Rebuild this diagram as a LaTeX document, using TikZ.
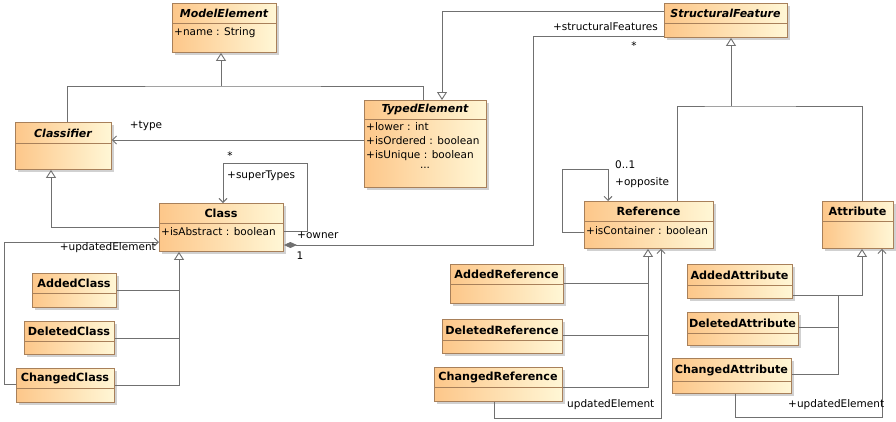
\documentclass[tikz,border=0pt]{standalone}
\usepackage{fontspec}
\setmainfont{DejaVu Sans}
\usetikzlibrary{arrows.meta,shadows,calc}

\definecolor{boxleft}{RGB}{253,199,138}
\definecolor{boxright}{RGB}{255,247,214}
\definecolor{boxline}{RGB}{168,128,90}
\definecolor{wire}{RGB}{112,112,112}

\tikzset{
  classbox/.style={draw=boxline, line width=0.9pt, left color=boxleft, right color=boxright,
    inner sep=0pt, anchor=north west,
    drop shadow={shadow xshift=2.5pt, shadow yshift=-2.5pt, fill=black!40, opacity=0.45}},
  divider/.style={draw=boxline, line width=0.9pt},
  txt/.style={font=\fontsize{10.5}{14}\selectfont, inner sep=0pt},
  concrete/.style={txt, font=\fontsize{11.2}{14}\selectfont\bfseries},
  abstract/.style={txt, font=\fontsize{11}{14}\selectfont\bfseries\itshape},
  attrs/.style={txt, anchor=west, align=left},
  conn/.style={draw=wire, line width=0.9pt},
  gen/.style={conn, -{Triangle[length=8pt, width=10pt, fill=white]}},
  nav/.style={conn, -{Straight Barb[length=4pt, width=8pt]}},
  comp/.style={conn, {Diamond[length=13pt, width=6pt, fill=wire]}-},
}

% #1 name, #2 x, #3 y, #4 width, #5 height, #6 header height, #7 title style, #8 title
\newcommand\umlclass[8]{%
  \node[classbox, minimum width=#4pt, minimum height=#5pt] (#1) at (#2,#3) {};
  \draw[divider] (#2,#3+#6) -- (#2+#4,#3+#6);
  \node[#7] (#1-name) at (#2+#4/2,#3+#6/2+0.5) {#8};
}

\begin{document}
\begin{tikzpicture}[x=1pt,y=-1pt]
\useasboundingbox (0,0) rectangle (896,421);

% classes
\umlclass{ModelElement}{172}{3}{104}{49}{20}{abstract}{ModelElement}
\node[attrs] (ModelElement-attrs) at (174,33) {+name : String};

\umlclass{StructuralFeature}{664}{3}{123}{34}{20}{abstract}{StructuralFeature}

\umlclass{Classifier}{15}{122}{96}{47}{21}{abstract}{Classifier}

\umlclass{TypedElement}{364}{100}{122}{87}{19}{abstract}{TypedElement}
\node[attrs, anchor=north west] (TypedElement-attrs) at (366,122)
  {+lower : int\\+isOrdered : boolean\\+isUnique : boolean};
\node[txt] (TypedElement-more) at (425,168) {...};

\umlclass{Class}{159}{203}{124}{48}{20}{concrete}{Class}
\node[attrs] (Class-attrs) at (161,232) {+isAbstract : boolean};

\umlclass{Reference}{584}{201}{129}{47}{20}{concrete}{Reference}
\node[attrs] (Reference-attrs) at (586,231) {+isContainer : boolean};

\umlclass{Attribute}{822}{201}{71}{47}{20}{concrete}{Attribute}

\umlclass{AddedClass}{32}{273}{84}{34}{20}{concrete}{AddedClass}
\umlclass{DeletedClass}{24}{321}{90}{33}{20}{concrete}{DeletedClass}
\umlclass{ChangedClass}{16}{368}{98}{34}{20}{concrete}{ChangedClass}

\umlclass{AddedReference}{450}{264}{113}{39}{20}{concrete}{AddedReference}
\umlclass{DeletedReference}{442}{319}{120}{34}{21}{concrete}{DeletedReference}
\umlclass{ChangedReference}{434}{367}{128}{34}{20}{concrete}{ChangedReference}

\umlclass{AddedAttribute}{687}{264}{105}{34}{21}{concrete}{AddedAttribute}
\umlclass{DeletedAttribute}{687}{312}{111}{33}{21}{concrete}{DeletedAttribute}
\umlclass{ChangedAttribute}{672}{358}{119}{35}{23}{concrete}{ChangedAttribute}

% ModelElement generalization
\coordinate (meJoin) at (221,86);
\draw[conn] ([xshift=52pt]Classifier.north west) |- (meJoin) -| ([xshift=59pt]TypedElement.north west);
\draw[gen] (meJoin) -- (meJoin |- ModelElement.south);

% TypedElement generalization
\draw[gen] ([yshift=-8pt]StructuralFeature.north west) -| ([xshift=78pt]TypedElement.north west);

% Classifier generalization
\draw[gen] ([yshift=-24pt]Class.north west) -| ([xshift=36pt]Classifier.south west);

% type association
\coordinate (typeStart) at ([yshift=-40pt]TypedElement.north west);
\draw[nav] (typeStart) -- (typeStart -| Classifier.east);
\node[txt] (typeLabel) at (146,126) {+type};

% superTypes self association
\coordinate (superCorner) at (307,163);
\draw[nav] ([yshift=-28pt]Class.north east) -| (superCorner) -| ([xshift=64pt]Class.north west);
\node[txt] (superMult) at (230,156) {*};
\node[txt, anchor=west] (superLabel) at (227,176) {+superTypes};

% owner / structuralFeatures composition
\coordinate (ownCorner) at (533,36);
\draw[comp] ([yshift=-42pt]Class.north east) -| (ownCorner) -- (ownCorner -| StructuralFeature.west);
\node[txt, anchor=west] (ownerLabel) at (297,235) {+owner};
\node[txt] (ownerMult) at (300,256) {1};
\node[txt, anchor=east] (featLabel) at (658,27) {+structuralFeatures};
\node[txt] (featMult) at (634,46) {*};

% StructuralFeature generalization
\coordinate (sfJoin) at (731,106);
\draw[conn] ([xshift=93pt]Reference.north west) |- (sfJoin) -| ([xshift=40pt]Attribute.north west);
\draw[gen] (sfJoin) -- (sfJoin |- StructuralFeature.south);

% opposite self association
\coordinate (oppCorner) at (562,169);
\draw[nav] ([yshift=-31pt]Reference.north west) -| (oppCorner) -| ([xshift=24pt]Reference.north west);
\node[txt, anchor=west] (oppMult) at (615,165) {0..1};
\node[txt, anchor=west] (oppLabel) at (615,183) {+opposite};

% Class subclasses
\coordinate (classBus) at ([xshift=20pt]Class.south west);
\coordinate (ac) at ([yshift=-17pt]AddedClass.north east);
\coordinate (dc) at ([yshift=-17pt]DeletedClass.north east);
\coordinate (cc) at ([yshift=-17pt]ChangedClass.north east);
\draw[conn] (ac) -- (ac -| classBus);
\draw[conn] (dc) -- (dc -| classBus);
\draw[gen] (cc) -| (classBus);
\coordinate (clsUpd) at (4,242);
\draw[nav] ([yshift=-16pt]ChangedClass.north west) -| (clsUpd) -- (clsUpd -| Class.west);
\node[txt, anchor=east] (clsUpdLabel) at (156,248) {+updatedElement};

% Reference subclasses
\coordinate (refBus) at ([xshift=64pt]Reference.south west);
\coordinate (ar) at ([yshift=-19pt]AddedReference.north east);
\coordinate (dr) at ([yshift=-16pt]DeletedReference.north east);
\coordinate (cr) at ([yshift=-20pt]ChangedReference.north east);
\draw[conn] (ar) -- (ar -| refBus);
\draw[conn] (dr) -- (dr -| refBus);
\draw[gen] (cr) -| (refBus);
\coordinate (refUpd) at (661,418);
\draw[nav] ([xshift=60pt]ChangedReference.south west) |- (refUpd) -- (refUpd |- Reference.south);
\node[txt, anchor=west] (refUpdLabel) at (567,405) {updatedElement};

% Attribute subclasses
\coordinate (attrBus) at ([xshift=40pt]Attribute.south west);
\coordinate (aa) at ([yshift=-31pt]AddedAttribute.north east);
\coordinate (attrJoin) at (838,295);
\coordinate (da) at ([yshift=-15pt]DeletedAttribute.north east);
\coordinate (ca) at ([yshift=-16pt]ChangedAttribute.north east);
\draw[gen] (aa) -| (attrBus);
\draw[conn] (da) -- (da -| attrJoin);
\draw[conn] (ca) -| (attrJoin);
\coordinate (attrUpd) at (882,417);
\draw[nav] ([xshift=63pt]ChangedAttribute.south west) |- (attrUpd) -- (attrUpd |- Attribute.south);
\node[txt, anchor=west] (attrUpdLabel) at (788,405) {+updatedElement};
\end{tikzpicture}
\end{document}
